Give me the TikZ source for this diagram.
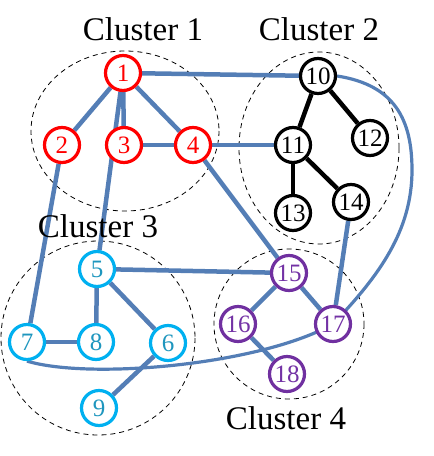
\documentclass[tikz,border=0pt]{standalone}
\usepackage{fontspec}
\setmainfont{Liberation Serif}
\usetikzlibrary{backgrounds}
\definecolor{edgeblue}{RGB}{84,126,182}
\definecolor{cyanring}{RGB}{0,176,240}
\definecolor{cyantext}{RGB}{30,150,190}
\definecolor{purplering}{RGB}{112,48,160}
\definecolor{purpletext}{RGB}{115,50,165}
\tikzset{
  vert/.style={circle,draw,line width=3.2pt,fill=white,minimum size=35pt,inner sep=0pt,
    font=\fontsize{25}{25}\selectfont},
  redv/.style={vert,draw=red,text=red},
  blackv/.style={vert,draw=black,text=black},
  cyanv/.style={vert,draw=cyanring,text=cyantext},
  purplev/.style={vert,draw=purplering,text=purpletext},
  clusterlabel/.style={anchor=base,font=\fontsize{33}{33}\selectfont,inner sep=0pt},
  clusterring/.style={draw=black,dash pattern=on 5pt off 4pt,line width=0.8pt},
  blueedge/.style={draw=edgeblue,line width=4.5pt},
  bluecurve/.style={draw=edgeblue,line width=3.2pt},
  blackedge/.style={draw=black,line width=4.5pt}
}
\begin{document}
\begin{tikzpicture}[x=1pt,y=-1pt]
\useasboundingbox (0,0) rectangle (434,456);
% cluster labels
\node[clusterlabel] (L1) at (143,40) {Cluster 1};
\node[clusterlabel] (L2) at (319,40) {Cluster 2};
\node[clusterlabel] (L3) at (98,237) {Cluster 3};
\node[clusterlabel] (L4) at (286,429) {Cluster 4};
% nodes
\node[redv] (n1) at (123,73) {1};
\node[redv] (n2) at (62,145) {2};
\node[redv] (n3) at (124,145) {3};
\node[redv] (n4) at (193,145) {4};
\node[blackv] (n10) at (318,76) {10};
\node[blackv] (n11) at (293,145) {11};
\node[blackv] (n12) at (370,138) {12};
\node[blackv] (n13) at (293,213) {13};
\node[blackv] (n14) at (351,202) {14};
\node[cyanv] (n5) at (97,269) {5};
\node[cyanv] (n6) at (168,343) {6};
\node[cyanv] (n7) at (27,342) {7};
\node[cyanv] (n8) at (96,342) {8};
\node[cyanv] (n9) at (99,408) {9};
\node[purplev] (n15) at (289,273) {15};
\node[purplev] (n16) at (238,324) {16};
\node[purplev] (n17) at (333,324) {17};
\node[purplev] (n18) at (287,374) {18};
\begin{scope}[on background layer]
  % cluster rings
  \draw[clusterring] (125,131) ellipse [x radius=94, y radius=80];
  \draw[clusterring] (319,148) ellipse [x radius=80, y radius=96];
  \draw[clusterring] (98,338) circle [radius=97];
  \draw[clusterring] (289,324) circle [radius=75];
  % blue edges
  \draw[blueedge] (n1) -- (n2);
  \draw[blueedge] (n1) -- (n3);
  \draw[blueedge] (n1) -- (n4);
  \draw[blueedge] (n3) -- (n4);
  \draw[blueedge] (n1) -- (n5);
  \draw[blueedge] (n1) -- (n10);
  \draw[blueedge] (n4) -- (n11);
  \draw[blueedge] (n4) -- (n15);
  \draw[blueedge] (n2) -- (n7);
  \draw[blueedge] (n14) -- (n17);
  \draw[blueedge] (n5) -- (n8);
  \draw[blueedge] (n5) -- (n6);
  \draw[blueedge] (n5) -- (n15);
  \draw[blueedge] (n7) -- (n8);
  \draw[blueedge] (n6) -- (n9);
  \draw[blueedge] (n15) -- (n16);
  \draw[blueedge] (n15) -- (n17);
  \draw[blueedge] (n16) -- (n18);
  % black edges
  \draw[blackedge] (n10) -- (n11);
  \draw[blackedge] (n10) -- (n12);
  \draw[blackedge] (n11) -- (n13);
  \draw[blackedge] (n11) -- (n14);
  % long curves
  \draw[bluecurve] (n10.east) .. controls (395,85) and (412,120) .. (412,170)
     .. controls (412,230) and (380,275) .. (n17.center);
  \draw[bluecurve] (n17.center) .. controls (260,365) and (90,380) .. (n7.south);
\end{scope}
\end{tikzpicture}
\end{document}
